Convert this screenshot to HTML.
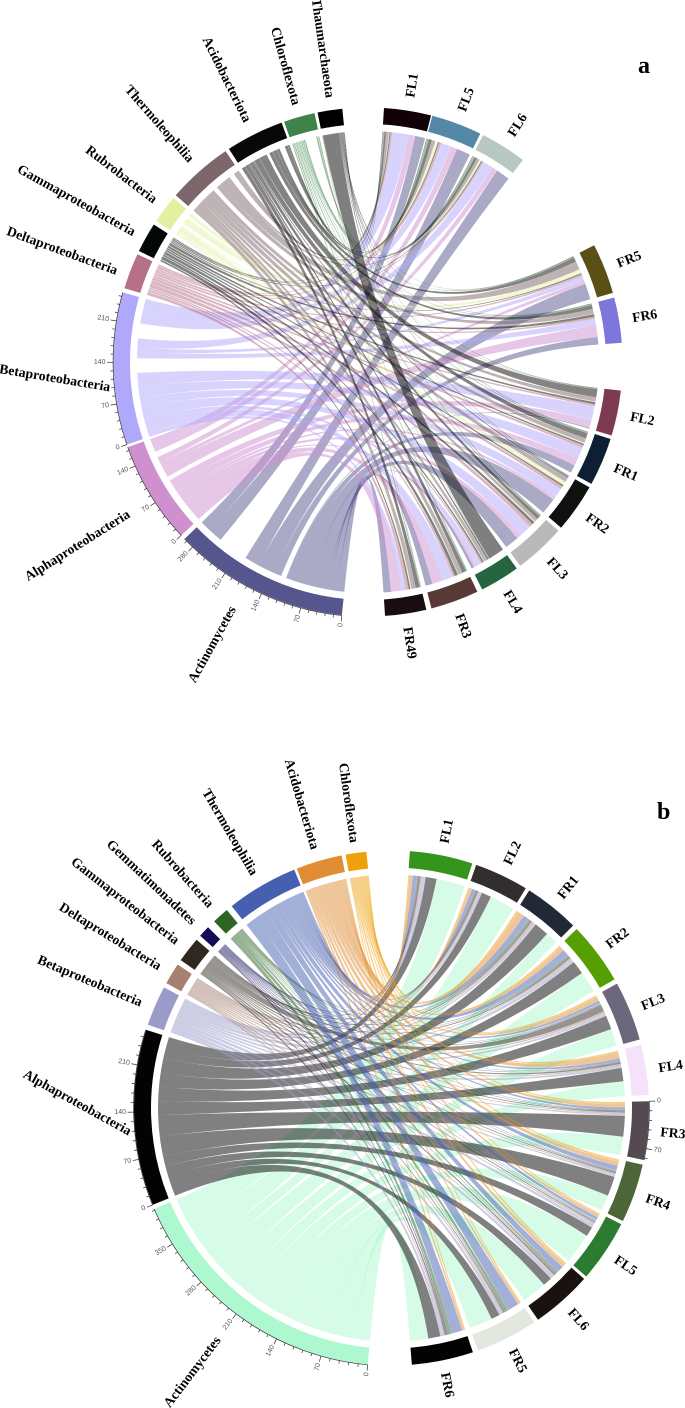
<!DOCTYPE html>
<html lang="en">
<head>
<meta charset="utf-8">
<title>Chord diagrams of bacterial taxa across samples</title>
<style>
html,body{margin:0;padding:0;background:#fff;width:685px;height:1408px;overflow:hidden}
svg{display:block;filter:blur(0.3px)}
.sector-label{font-family:"Liberation Serif",serif;font-weight:bold;font-size:13.7px;fill:#000;dominant-baseline:central}
.tick-label{font-family:"Liberation Sans",sans-serif;font-size:7px;fill:#555;dominant-baseline:central}
.panel-letter{font-family:"Liberation Serif",serif;font-weight:bold;font-size:24px;fill:#000}
</style>
</head>
<body>
<svg id="figure" xmlns="http://www.w3.org/2000/svg" width="685" height="1408" viewBox="0 0 685 1408">
<rect width="685" height="1408" fill="#fff"/>
<text class="panel-letter" x="638" y="73">a</text>
<text class="panel-letter" x="657" y="819">b</text>
</svg>
<script>
// ---------- Panel a data ----------
const samplesA = ['FL1','FL5','FL6','FR5','FR6','FL2','FR1','FR2','FL3','FL4','FR3','FR49'];
const sampleTotalsA = [80,86,79,86,77,77,82,83,87,68,82,70];
const sampleColorsA = ['#120208','#5389a7','#b9c7c1','#5a4f14','#7f76db','#7c3a53','#0f1f33','#10120f','#b9b9b7','#256640','#573935','#1a0d12'];
const taxaA = ['Actinomycetes','Alphaproteobacteria','Betaproteobacteria','Deltaproteobacteria','Gammaproteobacteria','Rubrobacteria','Thermoleophilia','Acidobacteriota','Chloroflexota','Thaumarchaeota'];
const taxonTotalsA = [299,174,259,61,51,48,112,99,53,42];
const taxonColorsA = ['#56568f','#d08fcf','#b0a8fb','#b7708a','#040804','#e4f0a0','#7e676a','#0a0806','#3e834a','#000000'];
const actinoA = [19,26,26,30,14,2,15,30,26,5,13,14];
const alphaA  = [12,12,10,7,22,14,13,6,9,5,20,19];
const betaA   = [30,18,18,8,12,26,22,18,22,9,20,8];
const deltaA  = [3,4,3,4,4,4,5,6,7,3,4,6];
const gammaA  = [2,2,2,2,5,4,3,3,5,3,6,3];
const rubroA  = [1,5,3,8,1,1,2,7,2,1,1,2];
const thermoA = [5,6,5,16,9,8,8,9,6,6,8,8];
const acidoA  = [3,6,5,8,7,15,10,2,6,3,7,7];
const chloroA = [2,3,3,2,2,1,2,1,2,1,2,2];
const thaumA  = [1,1,1,1,1,1,1,1,1,30,0.4,0.4];
const unlinkedLowerA = [10,8,27,0,0,4,8,5,0,0];
const unlinkedUpperA = [57,11,28,0,0,4,10,10,20,0];

// ---------- Panel b data ----------
const samplesB = ['FL1','FL2','FR1','FR2','FL3','FL4','FR3','FR4','FL5','FL6','FR5','FR6'];
const sampleTotalsB = [94,81,83,93,89,75,87,88,93,91,93,92];
const sampleColorsB = ['#35941c','#322e2e','#212937','#559f02','#6c677c','#f5e1fa','#554a52','#4d6639','#2b7c30','#1a1210','#e2e8dd','#030303'];
const taxaB = ['Actinomycetes','Alphaproteobacteria','Betaproteobacteria','Deltaproteobacteria','Gammaproteobacteria','Gemmatimonadetes','Rubrobacteria','Thermoleophilia','Acidobacteriota','Chloroflexota'];
const taxonTotalsB = [408,263,60,32,38,17,25,107,69,31];
const taxonColorsB = ['#aef8cf','#040204','#9b9bc9','#a68070','#2f2820','#130c58','#2e6426','#4560b0','#e08d33','#f0a00a'];
const actinoB = [47,41,20,35,28,24,30,26,50,40,38,30];
const alphaB  = [18,16,24,22,23,22,34,32,16,15,14,20];
const betaB   = [6,4,4,6,4,4,3,3,5,5,5,5];
const deltaB  = [2,2,3,2,3,2,2,2,2,2,2,2];
const gammaB  = [3,3,3,3,12,3,2,2,2,3,2,3];
const gemmaB  = [1,1,1,1,1,1,1,1,1,1,1,2];
const rubroB  = [1,1,2,2,1,1,1,1,1,3,5,6];
const thermoB = [7,5,9,10,4,4,4,8,5,11,19,18];
const acidoB  = [5,4,11,6,6,9,6,7,4,5,3,3];
const chloroB = [2,2,3,3,3,3,3,3,2,3,2,2];
const unlinkedLowerB = [0,0,0,0,0,0,0,0,0,0];
const unlinkedUpperB = [0,0,0,0,0,0,0,0,0,0];

// ---------- Shared tick settings ----------
const tickMajorStep = 70;
const tickMinorStep = 14;

// ---------- Panel layout (not data) ----------
const panelA = {
  key:'a', cx:368, cy:362, rOut:254.5, rIn:238, rRib:231, unitsPerDeg:7.45,
  samples:samplesA, sampleTotals:sampleTotalsA, sampleColors:sampleColorsA,
  taxa:taxaA, taxonTotals:taxonTotalsA, taxonColors:taxonColorsA,
  rows:[actinoA,alphaA,betaA,deltaA,gammaA,rubroA,thermoA,acidoA,chloroA,thaumA],
  lower:unlinkedLowerA, upper:unlinkedUpperA, groupAfter:'FL2', groupBefore:'FL6',
  fillCount:3,
  sampleStart:3.6, sampleGaps:[0.3,0.7,25.2,1.1,10.8,0.8,0.9,0.9,1,1.2,1.2],
  taxonStart:185.9, taxonGaps:[1.1,0.6,1,0.8,1,0.8,0.9,0.6,0.7],
  axisSectors:{taxa:[0,1,2],samples:[]},
  taxonLabelR:[280,283,259,267,267,267,268,269,267,267],
  taxonLabelShift:[3,-1,-4,-0.9,-0.2,0.4,0.4,0,0.2,0.5],
  taxonLabelRot:[null,null,9.4,null,null,null,null,null,null,null],
  sampleLabelR:268, ribbonOpacity:0.5
};
const panelB = {
  key:'b', cx:391.5, cy:1108, rOut:257.5, rIn:240.5, rRib:233.5, unitsPerDeg:6.62,
  samples:samplesB, sampleTotals:sampleTotalsB, sampleColors:sampleColorsB,
  taxa:taxaB, taxonTotals:taxonTotalsB, taxonColors:taxonColorsB,
  rows:[actinoB,alphaB,betaB,deltaB,gammaB,gemmaB,rubroB,thermoB,acidoB,chloroB],
  lower:unlinkedLowerB, upper:unlinkedUpperB, groupAfter:'FL1', groupBefore:'FL1',
  fillCount:10,
  sampleStart:4.1, sampleGaps:[0.9,0.9,1.1,1.1,1.2,1.4,1.1,0.8,0.7,1,1.2],
  taxonStart:185.3, taxonGaps:[1,1.2,1.1,1.2,1.2,1.9,1.4,0.6,0.9],
  axisSectors:{taxa:[0,1],samples:[6]},
  taxonLabelR:[288,262,271,271,271,271,271,271,270,268],
  taxonLabelShift:[1,-3,-0.5,0,0,0,0,0,0,0],
  taxonLabelRot:[null,29,null,null,null,null,null,null,null,null],
  sampleLabelR:270, ribbonOpacity:0.5
};

const NS = 'http://www.w3.org/2000/svg';
const svgRoot = document.getElementById('figure');

function el(tag, attrs, parent){
  const n = document.createElementNS(NS, tag);
  for (const k in attrs) n.setAttribute(k, attrs[k]);
  parent.appendChild(n);
  return n;
}
function polar(p, deg, r){
  const a = deg * Math.PI / 180;
  return [p.cx + r * Math.sin(a), p.cy - r * Math.cos(a)];
}
function fmt(v){ return v.toFixed(2); }
function slug(s){ return s.toLowerCase(); }

function layoutSectors(p, totals, start, gaps){
  const out = [];
  let cur = start;
  totals.forEach(function(t, i){
    const w = t / p.unitsPerDeg;
    out.push({start:cur, end:cur + w, total:t});
    cur += w + (i < gaps.length ? gaps[i] : 0);
  });
  return out;
}
function ringPath(p, s){
  const a = polar(p, s.start, p.rOut), b = polar(p, s.end, p.rOut);
  const c = polar(p, s.end, p.rIn), d = polar(p, s.start, p.rIn);
  const large = (s.end - s.start) > 180 ? 1 : 0;
  return 'M' + fmt(a[0]) + ' ' + fmt(a[1]) +
    'A' + p.rOut + ' ' + p.rOut + ' 0 ' + large + ' 1 ' + fmt(b[0]) + ' ' + fmt(b[1]) +
    'L' + fmt(c[0]) + ' ' + fmt(c[1]) +
    'A' + p.rIn + ' ' + p.rIn + ' 0 ' + large + ' 0 ' + fmt(d[0]) + ' ' + fmt(d[1]) + 'Z';
}
function ribbonPath(p, a0, a1, b0, b1){
  const r = p.rRib;
  const A0 = polar(p, a0, r), A1 = polar(p, a1, r), B0 = polar(p, b0, r), B1 = polar(p, b1, r);
  return 'M' + fmt(A0[0]) + ' ' + fmt(A0[1]) +
    'A' + r + ' ' + r + ' 0 0 1 ' + fmt(A1[0]) + ' ' + fmt(A1[1]) +
    'Q' + p.cx + ' ' + p.cy + ' ' + fmt(B0[0]) + ' ' + fmt(B0[1]) +
    'A' + r + ' ' + r + ' 0 0 1 ' + fmt(B1[0]) + ' ' + fmt(B1[1]) +
    'Q' + p.cx + ' ' + p.cy + ' ' + fmt(A0[0]) + ' ' + fmt(A0[1]) + 'Z';
}
function drawLabel(p, g, text, deg, r, name, rotOverride){
  const pos = polar(p, deg, r);
  const right = deg < 180;
  const rot = rotOverride !== null && rotOverride !== undefined ? rotOverride : (right ? deg - 90 : deg + 90);
  const t = el('text', {
    'class':'sector-label',
    x:fmt(pos[0]), y:fmt(pos[1]),
    'text-anchor': right ? 'start' : 'end',
    transform:'rotate(' + fmt(rot) + ' ' + fmt(pos[0]) + ' ' + fmt(pos[1]) + ')'
  }, g);
  t.textContent = text;
  
  
}
function drawAxis(p, g, s, name){
  const axis = el('g', {}, g);
  
  
  const a = polar(p, s.start, p.rOut + 0.4), b = polar(p, s.end, p.rOut + 0.4);
  el('path', {
    d:'M' + fmt(a[0]) + ' ' + fmt(a[1]) + 'A' + (p.rOut + 0.4) + ' ' + (p.rOut + 0.4) + ' 0 0 1 ' + fmt(b[0]) + ' ' + fmt(b[1]),
    fill:'none', stroke:'#333', 'stroke-width':0.7
  }, axis);
  for (let v = 0; v <= s.total; v += tickMinorStep){
    const deg = s.start + v / p.unitsPerDeg;
    const major = v % tickMajorStep === 0;
    const len = major ? 6 : 3;
    const t0 = polar(p, deg, p.rOut + 0.4), t1 = polar(p, deg, p.rOut + 0.4 + len);
    el('line', {x1:fmt(t0[0]), y1:fmt(t0[1]), x2:fmt(t1[0]), y2:fmt(t1[1]), stroke:'#333', 'stroke-width':0.7}, axis);
    if (major){
      const lp = polar(p, deg, p.rOut + 8);
      const right = deg < 180;
      const rot = right ? deg - 90 : deg + 90;
      const tl = el('text', {
        'class':'tick-label', x:fmt(lp[0]), y:fmt(lp[1]),
        'text-anchor': right ? 'start' : 'end',
        transform:'rotate(' + fmt(rot) + ' ' + fmt(lp[0]) + ' ' + fmt(lp[1]) + ')'
      }, axis);
      tl.textContent = String(v);
    }
  }
}

function drawPanel(p){
  const root = el('g', {}, svgRoot);
  
  

  const sampleSecs = layoutSectors(p, p.sampleTotals, p.sampleStart, p.sampleGaps);
  const taxonSecs = layoutSectors(p, p.taxonTotals, p.taxonStart, p.taxonGaps);
  const nS = p.samples.length, nT = p.taxa.length;

  // Slots on sample sectors: clockwise the taxa run last-to-first.
  const sampleSlots = p.samples.map(function(){ return new Array(nT); });
  for (let j = 0; j < nS; j++){
    let sum = 0;
    for (let i = 0; i < nT; i++) sum += p.rows[i][j];
    const k = Math.min(1, p.sampleTotals[j] / sum);
    const pad = Math.max(0, p.sampleTotals[j] - sum) / nT;
    let u = pad / 2;
    for (let i = nT - 1; i >= 0; i--){
      const w = p.rows[i][j] * k;
      sampleSlots[j][i] = [sampleSecs[j].start + u / p.unitsPerDeg, sampleSecs[j].start + (u + w) / p.unitsPerDeg];
      u += w + pad;
    }
  }
  // Slots on taxon sectors: clockwise the samples run last-to-first, with unlinked stretches.
  const lowerSplit = p.samples.indexOf(p.groupAfter);
  const upperSplit = p.samples.indexOf(p.groupBefore);
  const taxonSlots = p.taxa.map(function(){ return new Array(nS); });
  for (let i = 0; i < nT; i++){
    let sum = 0;
    for (let j = 0; j < nS; j++) sum += p.rows[i][j];
    const reserved = p.lower[i] + p.upper[i];
    const room = p.taxonTotals[i] - reserved;
    const fill = i < p.fillCount;
    const k = fill ? room / sum : Math.min(1, room / sum);
    const pad = fill ? 0 : Math.max(0, room - sum) / nS;
    let u = pad / 2;
    for (let j = nS - 1; j >= 0; j--){
      const w = p.rows[i][j] * k;
      taxonSlots[i][j] = [taxonSecs[i].start + u / p.unitsPerDeg, taxonSecs[i].start + (u + w) / p.unitsPerDeg];
      u += w + pad;
      if (j === lowerSplit) u += p.lower[i];
      if (j === upperSplit) u += p.upper[i];
    }
  }

  // Ribbons
  const ribbons = el('g', {}, root);
  
  
  for (let i = 0; i < nT; i++){
    for (let j = nS - 1; j >= 0; j--){
      if (!(p.rows[i][j] > 0)) continue;
      const a = taxonSlots[i][j], b = sampleSlots[j][i];
      const rib = el('path', {
        d:ribbonPath(p, a[0], a[1], b[0], b[1]),
        fill:p.taxonColors[i], 'fill-opacity':p.ribbonOpacity
      }, ribbons);
      
      
    }
  }

  // Sector rings
  const rings = el('g', {}, root);
  
  
  taxonSecs.forEach(function(s, i){
    const seg = el('path', {d:ringPath(p, s), fill:p.taxonColors[i]}, rings);
    
    
    drawLabel(p, rings, p.taxa[i], (s.start + s.end) / 2 + p.taxonLabelShift[i], p.taxonLabelR[i], 'label-' + slug(p.taxa[i]), p.taxonLabelRot[i]);
  });
  sampleSecs.forEach(function(s, j){
    const seg = el('path', {d:ringPath(p, s), fill:p.sampleColors[j]}, rings);
    
    
    drawLabel(p, rings, p.samples[j], (s.start + s.end) / 2, p.sampleLabelR, 'label-' + slug(p.samples[j]), null);
  });

  // Axes
  p.axisSectors.taxa.forEach(function(i){
    drawAxis(p, rings, taxonSecs[i], 'axis-' + slug(p.taxa[i]));
  });
  p.axisSectors.samples.forEach(function(j){
    drawAxis(p, rings, sampleSecs[j], 'axis-' + slug(p.samples[j]));
  });
}

drawPanel(panelA);
drawPanel(panelB);
</script>
</body>
</html>
